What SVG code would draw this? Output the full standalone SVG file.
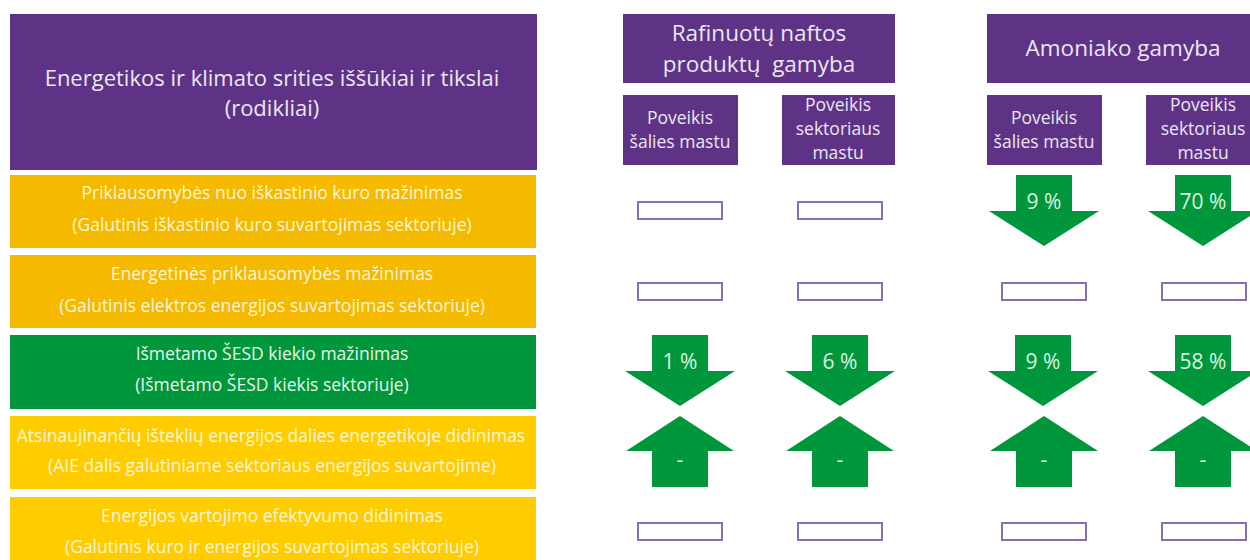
<svg xmlns="http://www.w3.org/2000/svg" width="1250" height="560" viewBox="0 0 1250 560">
<style>
.bg{fill:#ffffff}
.pur{fill:#5E3386}
.ora{fill:#F5B900}
.yel{fill:#FFCC00}
.grn{fill:#00963B}
.box{fill:#ffffff;stroke:#8A6CC0;stroke-width:2}
.t{font-family:"Open Sans","Liberation Sans",sans-serif;text-anchor:middle}
.th{fill:#ECE6F2;font-size:22px}
.tr{fill:#FFF6D8;font-size:17.5px}
.tg{fill:#E6F5EA;font-size:17.5px}
.tc{fill:#ECE6F2;font-size:22.5px}
.ts{fill:#ECE6F2;font-size:17.5px}
.ta{fill:#DDF2E2;font-size:21px}
</style>
<defs>
<path id="down" d="M-28,0 H28 V36 H55 L0,71 L-55,36 H-28 Z"/>
<path id="up" d="M0,0 L54,35 H28 V71 H-28 V35 H-54 Z"/>
<rect id="empty" x="-42" y="0" width="84" height="17"/>
</defs>
<rect class="bg" x="0" y="0" width="1250" height="560"/>

<g id="header-left">
<rect class="pur" x="10" y="14" width="527" height="156"/>
<text class="t th" x="272" y="86">Energetikos ir klimato srities iššūkiai ir tikslai</text>
<text class="t th" x="272" y="116">(rodikliai)</text>
</g>

<g id="row1">
<rect class="ora" x="10" y="175" width="526" height="73"/>
<text class="t tr" x="272" y="199">Priklausomybės nuo iškastinio kuro mažinimas</text>
<text class="t tr" x="272" y="231">(Galutinis iškastinio kuro suvartojimas sektoriuje)</text>
</g>
<g id="row2">
<rect class="ora" x="10" y="255" width="526" height="73"/>
<text class="t tr" x="272" y="280">Energetinės priklausomybės mažinimas</text>
<text class="t tr" x="272" y="312">(Galutinis elektros energijos suvartojimas sektoriuje)</text>
</g>
<g id="row3">
<rect class="grn" x="10" y="335" width="526" height="74"/>
<text class="t tg" x="272" y="360">Išmetamo ŠESD kiekio mažinimas</text>
<text class="t tg" x="272" y="391">(Išmetamo ŠESD kiekis sektoriuje)</text>
</g>
<g id="row4">
<rect class="yel" x="10" y="416" width="526" height="73"/>
<text class="t tr" x="271" y="442">Atsinaujinančių išteklių energijos dalies energetikoje didinimas</text>
<text class="t tr" x="272" y="472">(AIE dalis galutiniame sektoriaus energijos suvartojime)</text>
</g>
<g id="row5">
<rect class="yel" x="10" y="497" width="526" height="70"/>
<text class="t tr" x="272" y="522">Energijos vartojimo efektyvumo didinimas</text>
<text class="t tr" x="272" y="553">(Galutinis kuro ir energijos suvartojimas sektoriuje)</text>
</g>

<g id="header-rafinuotu">
<rect class="pur" x="623" y="14" width="272" height="69"/>
<text class="t tc" x="759" y="41">Rafinuotų naftos</text>
<text class="t tc" x="759" y="72" xml:space="preserve">produktų  gamyba</text>
</g>
<g id="header-amoniako">
<rect class="pur" x="987" y="14" width="263" height="69"/>
<text class="t tc" x="1123" y="56">Amoniako gamyba</text>
</g>

<g id="sub-c1">
<rect class="pur" x="623" y="95" width="115" height="70"/>
<text class="t ts" x="680" y="124">Poveikis</text>
<text class="t ts" x="680" y="148">šalies mastu</text>
</g>
<g id="sub-c2">
<rect class="pur" x="782" y="95" width="113" height="70"/>
<text class="t ts" x="838" y="111">Poveikis</text>
<text class="t ts" x="838" y="135">sektoriaus</text>
<text class="t ts" x="838" y="159">mastu</text>
</g>
<g id="sub-c3">
<rect class="pur" x="987" y="95" width="115" height="70"/>
<text class="t ts" x="1044" y="124">Poveikis</text>
<text class="t ts" x="1044" y="148">šalies mastu</text>
</g>
<g id="sub-c4">
<rect class="pur" x="1146" y="95" width="110" height="70"/>
<text class="t ts" x="1203" y="111">Poveikis</text>
<text class="t ts" x="1203" y="135">sektoriaus</text>
<text class="t ts" x="1203" y="159">mastu</text>
</g>

<g id="indicators">
<use href="#empty" class="box" x="680" y="202"/>
<use href="#empty" class="box" x="840" y="202"/>
<use href="#empty" class="box" x="680" y="283"/>
<use href="#empty" class="box" x="840" y="283"/>
<use href="#empty" class="box" x="1044" y="283"/>
<use href="#empty" class="box" x="1204" y="283"/>
<use href="#empty" class="box" x="680" y="523"/>
<use href="#empty" class="box" x="840" y="523"/>
<use href="#empty" class="box" x="1044" y="523"/>
<use href="#empty" class="box" x="1204" y="523"/>

<use href="#down" class="grn" x="1044" y="175"/>
<text class="t ta" x="1044" y="209">9 %</text>
<use href="#down" class="grn" x="1203" y="175"/>
<text class="t ta" x="1203" y="209">70 %</text>

<use href="#down" class="grn" x="680" y="335"/>
<text class="t ta" x="680" y="369">1 %</text>
<use href="#down" class="grn" x="840" y="335"/>
<text class="t ta" x="840" y="369">6 %</text>
<use href="#down" class="grn" x="1043" y="335"/>
<text class="t ta" x="1043" y="369">9 %</text>
<use href="#down" class="grn" x="1203" y="335"/>
<text class="t ta" x="1203" y="369">58 %</text>

<use href="#up" class="grn" x="680" y="416"/>
<text class="t ta" x="680" y="467">-</text>
<use href="#up" class="grn" x="840" y="416"/>
<text class="t ta" x="840" y="467">-</text>
<use href="#up" class="grn" x="1044" y="416"/>
<text class="t ta" x="1044" y="467">-</text>
<use href="#up" class="grn" x="1203" y="416"/>
<text class="t ta" x="1203" y="467">-</text>
</g>
<g id="connectors"/>
</svg>
